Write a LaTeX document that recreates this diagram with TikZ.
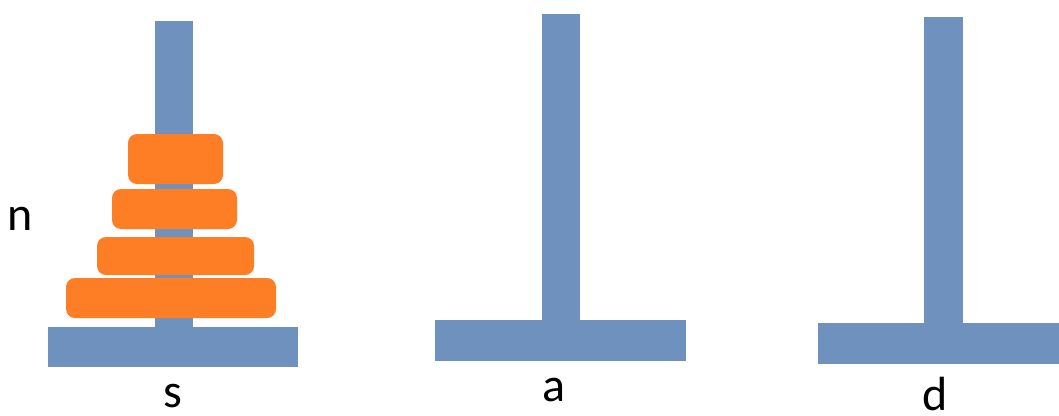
\documentclass[tikz,border=0pt]{standalone}
\usepackage{fontspec}
\setmainfont{Carlito}
\definecolor{pegblue}{RGB}{111,145,190}
\definecolor{diskorange}{RGB}{253,126,36}
\tikzset{
  peg/.style={fill=pegblue, draw=none},
  disk/.style={fill=diskorange, draw=none, rounded corners=9pt},
  lbl/.style={anchor=base, inner sep=0pt, font=\fontsize{48}{50}\selectfont}
}
\begin{document}
\begin{tikzpicture}[x=1pt,y=-1pt]
\useasboundingbox (0,0) rectangle (1059,415);
% peg s
\fill[peg] (155,21) rectangle (193,330);
\fill[peg] (48,327) rectangle (298,367);
% disks
\fill[disk] (128,134) rectangle (223,184);
\fill[disk] (112,189) rectangle (237,229);
\fill[disk] (97,237) rectangle (254,275);
\fill[disk] (66,278) rectangle (276,318);
% peg a
\fill[peg] (542,14) rectangle (580,322);
\fill[peg] (435,320) rectangle (686,361);
% peg d
\fill[peg] (924,17) rectangle (963,325);
\fill[peg] (818,323) rectangle (1059,364);
% labels
\node[lbl] (n) at (20,230) {n};
\node[lbl] (s) at (173,407) {s};
\node[lbl] (a) at (554,401) {a};
\node[lbl] (d) at (935,410) {d};
\end{tikzpicture}
\end{document}
